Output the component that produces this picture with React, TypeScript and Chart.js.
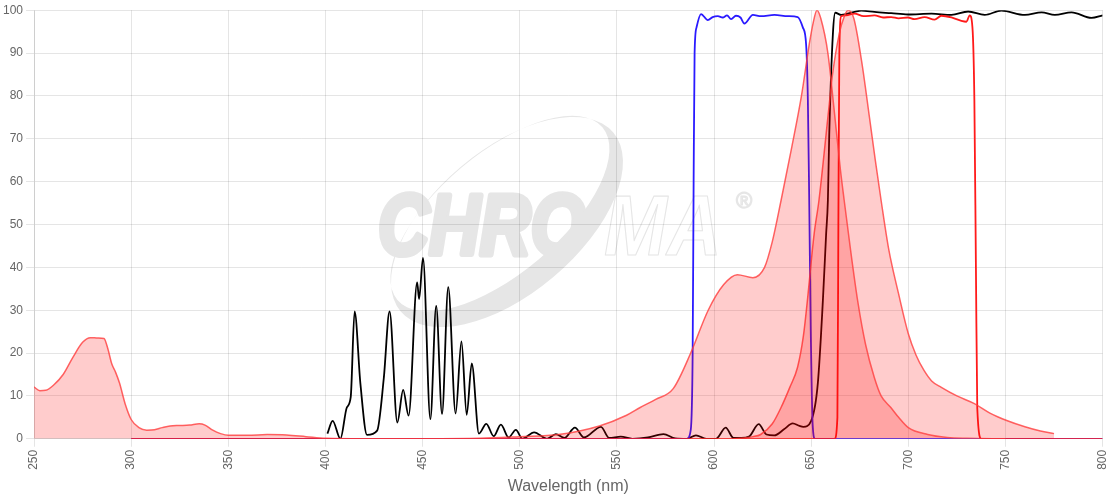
import React, { useEffect, useRef } from 'react';
import { Chart, registerables } from 'chart.js';

Chart.register(...registerables);

// excitation spectrum (filled)
const exX = [250, 253, 256, 260, 265, 270, 275, 279, 283, 286, 288, 290, 292, 294, 297, 300, 304, 308, 312, 316, 320, 325, 330, 335, 338, 342, 346, 350, 360, 370, 380, 390, 400, 420, 450, 480, 500, 520, 541, 555, 562, 570, 579, 588, 597, 605, 612, 620, 626, 630, 634.5, 640, 645, 649, 651, 653, 655, 658.6, 662, 665, 667, 670, 674, 678, 682.5, 686, 691, 695, 700, 710, 720, 730, 750];
const exY = [12.1, 11.2, 11.3, 12.5, 15, 19, 22.5, 23.6, 23.5, 23.4, 21, 17.5, 15.5, 13, 8, 4.5, 2.6, 2, 2.1, 2.6, 3, 3.1, 3.2, 3.5, 3.2, 2, 1.2, 0.8, 0.8, 1, 0.9, 0.5, 0.1, 0, 0, 0.1, 0.5, 1, 3, 5.5, 7.3, 9.2, 11.7, 20, 30, 36, 38.3, 37.6, 40, 46, 55.6, 68, 80, 92, 97, 100, 98, 90, 76, 63, 55.6, 45, 32, 22, 14.3, 10, 7.3, 5, 2.6, 1, 0.3, 0.1, 0];

// emission spectrum (filled)
const emX = [610, 620, 624, 630, 634.5, 639, 643, 646, 648, 651.5, 654, 658.6, 661, 664.5, 667, 669, 672, 676, 680, 683, 686, 690, 695, 700, 704, 708, 712, 717, 725, 734, 742, 751, 760, 768, 775];
const emY = [0, 0.5, 1, 3.5, 7.3, 12, 16.7, 24, 32, 47.7, 55.6, 75, 85, 94.6, 98.5, 100, 98, 88, 75, 65, 55.6, 44, 33.8, 24.5, 19.5, 16, 13.5, 12, 10, 8.2, 6, 4.2, 2.8, 1.8, 1.2];

// dichroic (black)
const diX = [401, 403.7, 407.7, 411, 413, 415, 418, 421.4, 426.6, 430, 433, 437, 440, 442.8, 447.2, 448.2, 450.2, 454, 457, 460, 463.2, 467, 470, 472.7, 475.3, 479, 482.8, 486.6, 490.3, 494.3, 498, 501.4, 507.4, 514, 518.6, 523, 528.4, 533, 541.8, 546, 552, 558, 566, 574, 580, 586, 590.7, 596, 601, 606, 610, 614, 618, 623, 627, 631, 636, 640.5, 644, 646, 650, 653.4, 656, 657.7, 658.6, 659.3, 661.2, 662.4, 665.5, 672.3, 675.8, 682.6, 691.2, 699.8, 711.9, 722.2, 730.8, 739.3, 747.9, 760, 768.6, 775.4, 784, 794.3, 800];
const diY = [1.2, 4.2, 0, 7.3, 9.7, 29.7, 12.8, 0.9, 1.9, 14, 29.7, 3.8, 11.4, 5.4, 36.5, 32.6, 42.2, 4.6, 31, 5.8, 35.4, 5.9, 22.7, 5.6, 17.6, 1.2, 3.5, 0.6, 3.3, 0.3, 2.1, 0, 1.5, 0, 1.1, 0.2, 2.6, 0.3, 2.8, 0.2, 0.5, 0, 0.3, 1.1, 0.1, 0, 0.8, 0, 0, 2.6, 0.2, 0.2, 0.5, 3.4, 1, 0.8, 2.2, 3.6, 3, 2.8, 4.2, 12.8, 32, 47.8, 55.6, 71, 94.6, 99.4, 98.9, 99.6, 99.9, 99.6, 99.3, 99, 99.2, 98.9, 99.7, 98.9, 99.9, 98.9, 99.5, 98.9, 99.5, 98.2, 98.8];

// excitation filter (blue)
const bpX = [300, 586, 588, 589, 589.5, 590, 591, 593.3, 596.8, 599.3, 602, 604.5, 606.7, 608.8, 611.3, 613.6, 615.6, 620, 624.2, 631.1, 638, 643.1, 645.7, 647.4, 648.3, 649, 649.8, 650.8, 652, 800];
const bpY = [0, 0, 2, 20, 60, 90, 96, 99.1, 97.7, 98.4, 98.6, 98.3, 98.8, 97.9, 98.7, 98.3, 96.9, 98.9, 98.6, 98.9, 98.6, 98.4, 96, 92, 79, 55.6, 25, 3, 0, 0];

// emission filter (red)
const lpX = [300, 662, 663.5, 664, 664.5, 665.5, 668, 672.3, 677, 682.6, 687, 691.2, 695, 699.8, 703.2, 708.4, 713.5, 717, 722.2, 727.3, 729.9, 731.6, 733, 734, 734.8, 735.5, 737.6, 800];
const lpY = [0, 0, 5, 50, 90, 98.6, 98.8, 99.2, 98.6, 98.8, 98.3, 98.4, 98.1, 98.3, 97.9, 98.4, 97.8, 98.7, 98.3, 97.5, 97.3, 98.8, 96, 79, 40, 7, 0, 0];

const xTicks = [250, 800, 50];
const yTicks = [0, 100, 10];

const pts = (xs: number[], ys: number[]) => xs.map((x, i) => ({ x, y: ys[i] }));

const watermark = {
  id: 'watermark',
  beforeDraw(chart: Chart) {
    const { ctx } = chart;
    const grey = '#e6e6e6';
    ctx.save();
    ctx.font = 'italic bold 86px "Liberation Sans", Arial, sans-serif';
    ctx.fillStyle = grey;
    ctx.strokeStyle = grey;
    ctx.lineJoin = 'round';
    ctx.save();
    ctx.translate(378, 254);
    ctx.scale(0.82, 1);
    ctx.lineWidth = 6;
    ctx.strokeText('CHRO', 0, 0);
    ctx.fillText('CHRO', 0, 0);
    ctx.restore();
    ctx.save();
    ctx.translate(604, 255);
    ctx.scale(0.88, 1);
    ctx.lineWidth = 1.2;
    ctx.strokeText('MA', 0, 0);
    ctx.restore();
    ctx.font = '22px "Liberation Sans", Arial, sans-serif';
    ctx.lineWidth = 1.2;
    ctx.strokeText('®', 736, 208);
    ctx.restore();

    // swoosh ring: thin at upper left, thick at lower right
    ctx.save();
    ctx.translate(507, 222);
    ctx.rotate(-0.7);
    ctx.beginPath();
    ctx.ellipse(0, 0, 139, 72, 0, 0, Math.PI * 2);
    ctx.ellipse(0, -11, 134, 60, 0, 0, Math.PI * 2);
    ctx.fillStyle = grey;
    ctx.fill('evenodd');
    ctx.restore();
  },
};

const App: React.FC = () => {
  const canvasRef = useRef<HTMLCanvasElement>(null);
  const chartRef = useRef<Chart | null>(null);

  useEffect(() => {
    document.body.style.margin = '0';
    if (!canvasRef.current) return;
    if (chartRef.current) {
      chartRef.current.destroy();
      chartRef.current = null;
    }

    const fillBase = {
      fill: 'origin',
      backgroundColor: 'rgba(255,0,0,0.2)',
      borderColor: 'rgba(255,60,60,0.8)',
      borderWidth: 1.5,
      pointRadius: 0,
      cubicInterpolationMode: 'monotone' as const,
    };
    const lineBase = {
      fill: false,
      borderWidth: 1.8,
      pointRadius: 0,
      cubicInterpolationMode: 'monotone' as const,
    };

    chartRef.current = new Chart(canvasRef.current, {
      type: 'line',
      data: {
        datasets: [
          { ...fillBase, label: 'Excitation', data: pts(exX, exY) },
          { ...fillBase, label: 'Emission', data: pts(emX, emY) },
          { ...lineBase, label: 'Emission filter', data: pts(lpX, lpY), borderColor: '#ff1a1a' },
          { ...lineBase, label: 'Excitation filter', data: pts(bpX, bpY), borderColor: '#2a1aff' },
          { ...lineBase, label: 'Dichroic', data: pts(diX, diY), borderColor: '#000000' },
        ],
      },
      options: {
        animation: false,
        responsive: true,
        maintainAspectRatio: false,
        layout: { padding: { right: 8 } },
        plugins: {
          legend: { display: false },
          tooltip: { enabled: false },
        },
        scales: {
          x: {
            type: 'linear',
            min: xTicks[0],
            max: xTicks[1],
            ticks: { stepSize: xTicks[2], maxRotation: 90, minRotation: 90, color: '#666', font: { size: 12 } },
            grid: { color: 'rgba(0,0,0,0.1)' },
            title: { display: true, text: 'Wavelength (nm)', color: '#666', font: { size: 16 } },
          },
          y: {
            min: yTicks[0],
            max: yTicks[1],
            ticks: { stepSize: yTicks[2], color: '#666', font: { size: 12 } },
            grid: { color: 'rgba(0,0,0,0.1)' },
          },
        },
      },
      plugins: [watermark],
    });

    return () => {
      if (chartRef.current) {
        chartRef.current.destroy();
        chartRef.current = null;
      }
    };
  }, []);

  return (
    <div style={{ position: 'relative', width: 1120, height: 500 }}>
      <canvas ref={canvasRef}></canvas>
    </div>
  );
};

export default App;
